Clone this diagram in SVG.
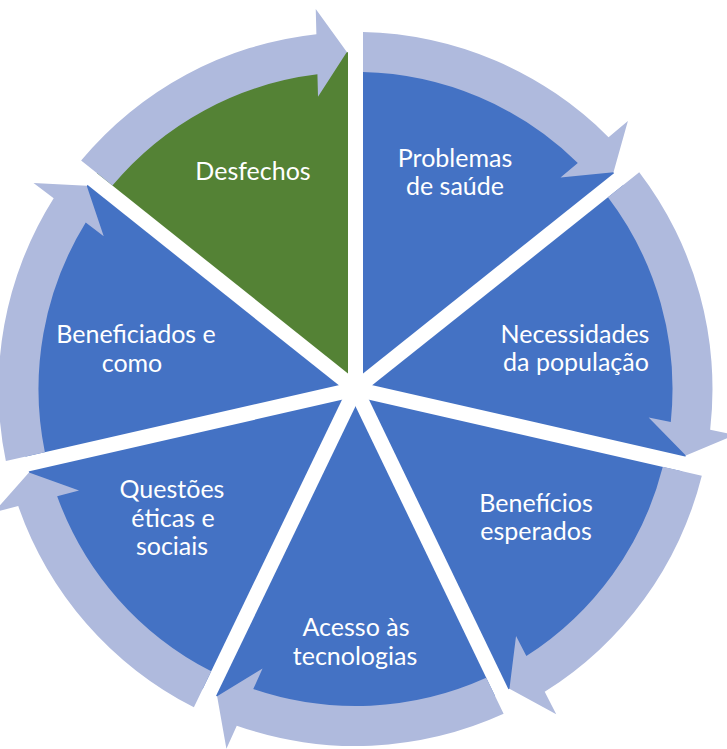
<svg xmlns="http://www.w3.org/2000/svg" xmlns:xlink="http://www.w3.org/1999/xlink" width="727" height="749" viewBox="0 0 727 749">
  <style>
    .seg { fill: #4472C4; }
    .seg-green { fill: #548235; }
    .ring { fill: #AFBADD; }
    .spoke { stroke: #FFFFFF; stroke-width: 15; stroke-linecap: butt; }
    .label { font-family: Lato, "Liberation Sans", sans-serif; font-size: 25px; fill: #FFFFFF; text-anchor: middle; }
  </style>
  <defs>
    <!-- one pie wedge of 360/7 degrees, starting at 12 o'clock, centre (355.5, 389) -->
    <path id="wedge" d="M 355.5 389 L 355.5 52 A 337 337 0 0 1 618.98 178.88 Z"/>
    <!-- one curved cycle arrow covering the same wedge, head pointing clockwise -->
    <path id="arrow" d="M 363 72.09 L 363 32.08 A 357 357 0 0 1 608.55 137.17 L 627.89 120.92 L 613.5 172.2 L 560.51 177.54 L 577.8 163.01 A 317 317 0 0 0 363 72.09 Z"/>
    <line id="spoke" x1="355.5" y1="389" x2="355.5" y2="46"/>
  </defs>

  <rect x="0" y="0" width="727" height="749" fill="#FFFFFF"/>

  <g id="node-problemas">
    <use xlink:href="#wedge" class="seg"/>
    <text class="label" x="455" y="167">Problemas</text>
    <text class="label" x="455" y="195">de saúde</text>
  </g>
  <g id="node-necessidades">
    <use xlink:href="#wedge" class="seg" transform="rotate(51.428571 355.5 389)"/>
    <text class="label" x="575" y="343">Necessidades</text>
    <text class="label" x="576" y="371">da população</text>
  </g>
  <g id="node-beneficios">
    <use xlink:href="#wedge" class="seg" transform="rotate(102.857143 355.5 389)"/>
    <text class="label" x="536" y="512">Benefícios</text>
    <text class="label" x="536" y="540">esperados</text>
  </g>
  <g id="node-acesso">
    <use xlink:href="#wedge" class="seg" transform="rotate(154.285714 355.5 389)"/>
    <text class="label" x="356" y="636">Acesso às</text>
    <text class="label" x="355" y="665">tecnologias</text>
  </g>
  <g id="node-questoes">
    <use xlink:href="#wedge" class="seg" transform="rotate(205.714286 355.5 389)"/>
    <text class="label" x="172" y="498">Questões</text>
    <text class="label" x="173" y="527">éticas e</text>
    <text class="label" x="172" y="555">sociais</text>
  </g>
  <g id="node-beneficiados">
    <use xlink:href="#wedge" class="seg" transform="rotate(257.142857 355.5 389)"/>
    <text class="label" x="136" y="343">Beneficiados e</text>
    <text class="label" x="132" y="372">como</text>
  </g>
  <g id="node-desfechos">
    <use xlink:href="#wedge" class="seg-green" transform="rotate(308.571429 355.5 389)"/>
    <text class="label" x="253" y="180">Desfechos</text>
  </g>

  <!-- white separators between the wedges -->
  <g id="separators" class="spoke">
    <use xlink:href="#spoke"/>
    <use xlink:href="#spoke" transform="rotate(51.428571 355.5 389)"/>
    <use xlink:href="#spoke" transform="rotate(102.857143 355.5 389)"/>
    <use xlink:href="#spoke" transform="rotate(154.285714 355.5 389)"/>
    <use xlink:href="#spoke" transform="rotate(205.714286 355.5 389)"/>
    <use xlink:href="#spoke" transform="rotate(257.142857 355.5 389)"/>
    <use xlink:href="#spoke" transform="rotate(308.571429 355.5 389)"/>
  </g>

  <!-- outer ring of cycle arrows -->
  <g id="connectors" class="ring">
    <use xlink:href="#arrow"/>
    <use xlink:href="#arrow" transform="rotate(51.428571 355.5 389)"/>
    <use xlink:href="#arrow" transform="rotate(102.857143 355.5 389)"/>
    <use xlink:href="#arrow" transform="rotate(154.285714 355.5 389)"/>
    <use xlink:href="#arrow" transform="rotate(205.714286 355.5 389)"/>
    <use xlink:href="#arrow" transform="rotate(257.142857 355.5 389)"/>
    <use xlink:href="#arrow" transform="rotate(308.571429 355.5 389)"/>
  </g>
</svg>
